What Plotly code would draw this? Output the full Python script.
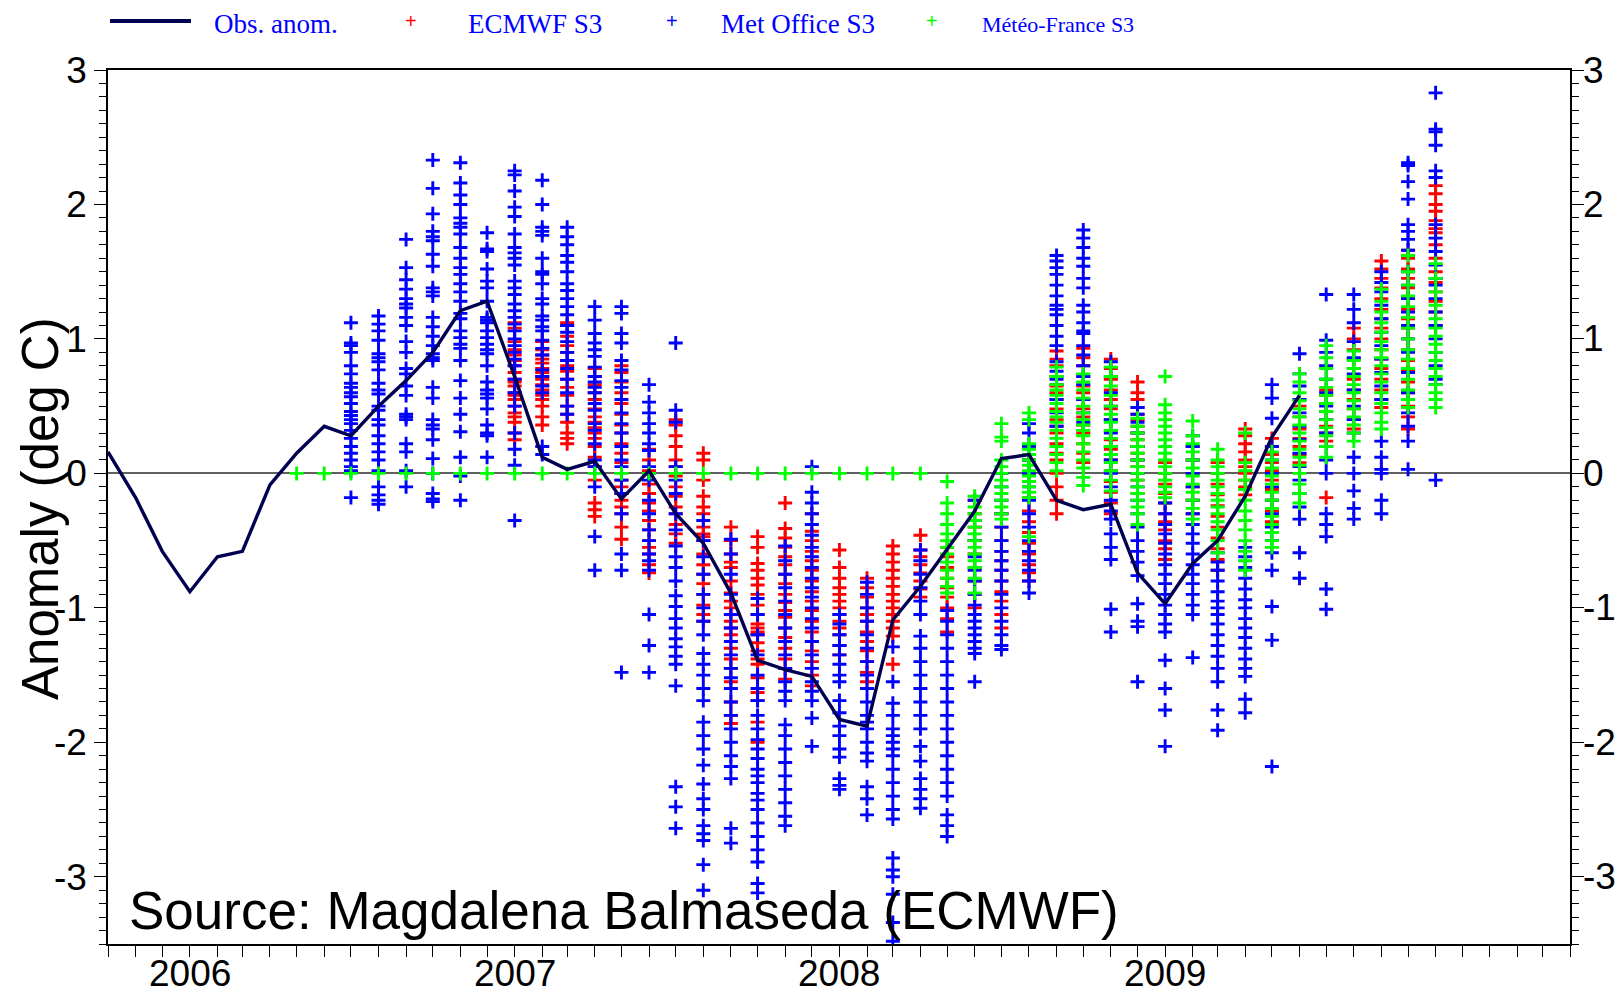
import plotly.graph_objects as go

# ---------------- data ----------------
obs_months = ["2005-10", "2005-11", "2005-12", "2006-01", "2006-02", "2006-03", "2006-04", "2006-05",
              "2006-06", "2006-07", "2006-08", "2006-09", "2006-10", "2006-11", "2006-12", "2007-01",
              "2007-02", "2007-03", "2007-04", "2007-05", "2007-06", "2007-07", "2007-08", "2007-09",
              "2007-10", "2007-11", "2007-12", "2008-01", "2008-02", "2008-03", "2008-04", "2008-05",
              "2008-06", "2008-07", "2008-08", "2008-09", "2008-10", "2008-11", "2008-12", "2009-01",
              "2009-02", "2009-03", "2009-04", "2009-05", "2009-06"]
obs_anom = [0.16, -0.18, -0.58, -0.88, -0.62, -0.58, -0.085, 0.15,
            0.35, 0.28, 0.5, 0.69, 0.9, 1.21, 1.28, 0.72,
            0.12, 0.03, 0.09, -0.19, 0.02, -0.3, -0.52, -0.89,
            -1.39, -1.46, -1.51, -1.83, -1.88, -1.09, -0.84, -0.56,
            -0.28, 0.11, 0.14, -0.2, -0.27, -0.23, -0.74, -0.97,
            -0.67, -0.5, -0.17, 0.27, 0.58]

year_ticks = ["2006-01-01", "2007-01-01", "2008-01-01", "2009-01-01"]
year_labels = ["2006", "2007", "2008", "2009"]
y_ticks = [-3, -2, -1, 0, 1, 2, 3]
y_labels = ["-3", "-2", "-1", "0", "1", "2", "3"]

ecmwf_months = ["2007-01", "2007-02", "2007-03", "2007-04", "2007-05", "2007-06", "2007-07", "2007-08",
                "2007-09", "2007-10", "2007-11", "2007-12", "2008-01", "2008-02", "2008-03", "2008-04",
                "2008-05", "2008-06", "2008-07", "2008-08", "2008-09", "2008-10", "2008-11", "2008-12",
                "2009-01", "2009-02", "2009-03", "2009-04", "2009-05", "2009-06", "2009-07", "2009-08",
                "2009-09", "2009-10", "2009-11"]
ecmwf_members = [
    [1.12, 1.08, 0.98, 0.92, 0.88, 0.84, 0.8, 0.75, 0.7, 0.68, 0.65, 0.6, 0.58, 0.55, 0.5, 0.45, 0.42, 0.38, 0.3, 0.25],
    [0.98, 0.92, 0.88, 0.85, 0.82, 0.78, 0.75, 0.72, 0.7, 0.66, 0.62, 0.58, 0.55, 0.5, 0.42, 0.36],
    [1.12, 1.1, 1.02, 0.95, 0.9, 0.84, 0.8, 0.76, 0.7, 0.64, 0.58, 0.5, 0.44, 0.38, 0.3, 0.26, 0.22],
    [0.78, 0.72, 0.66, 0.6, 0.55, 0.48, 0.42, 0.38, 0.34, 0.3, 0.26, 0.2, 0.12, 0.05, -0.05, -0.22, -0.27, -0.32],
    [0.8, 0.75, 0.68, 0.6, 0.52, 0.44, 0.36, 0.3, 0.22, 0.15, 0.08, -0.05, -0.1, -0.15, -0.2, -0.25, -0.3, -0.4, -0.49],
    [0.18, 0.1, 0.02, -0.08, -0.15, -0.22, -0.28, -0.35, -0.42, -0.5, -0.55, -0.6, -0.68, -0.74],
    [0.4, 0.36, 0.28, 0.2, 0.1, 0.05, -0.02, -0.1, -0.17, -0.25, -0.3, -0.38, -0.45, -0.52],
    [0.15, 0.1, -0.05, -0.17, -0.25, -0.3, -0.4, -0.45, -0.47, -0.5, -0.6, -0.68, -0.75, -0.82, -0.9, -0.98, -1.05, -1.1],
    [-0.4, -0.5, -0.6, -0.66, -0.7, -0.8, -0.89, -0.95, -1.0, -1.05, -1.1, -1.15, -1.2, -1.3, -1.38, -1.45, -1.55, -1.7, -1.8, -1.86],
    [-0.47, -0.55, -0.67, -0.72, -0.78, -0.83, -0.9, -0.98, -1.05, -1.12, -1.15, -1.18, -1.2, -1.26, -1.32, -1.38, -1.42, -1.52, -1.63, -1.69, -1.85, -2.0],
    [-0.22, -0.41, -0.48, -0.55, -0.62, -0.68, -0.75, -0.82, -0.9, -0.96, -1.02, -1.07, -1.15, -1.22, -1.3, -1.38, -1.45, -1.53],
    [-0.3, -0.43, -0.5, -0.58, -0.65, -0.72, -0.8, -0.88, -0.95, -1.02, -1.1, -1.18, -1.25, -1.32, -1.4, -1.5, -1.58],
    [-0.57, -0.7, -0.78, -0.85, -0.9, -0.95, -1.0, -1.05, -1.1, -1.15, -1.2, -1.28, -1.35],
    [-0.78, -0.85, -0.92, -1.0, -1.05, -1.1, -1.18, -1.25, -1.32, -1.4, -1.48, -1.55],
    [-0.54, -0.6, -0.66, -0.72, -0.78, -0.84, -0.9, -0.95, -1.0, -1.05, -1.1, -1.15, -1.21, -1.42],
    [-0.46, -0.57, -0.62, -0.68, -0.74, -0.8, -0.86, -0.92],
    [-0.55, -0.62, -0.7, -0.78, -0.85, -0.92, -1.0, -1.08, -1.18],
    [-0.2, -0.3, -0.4, -0.5, -0.6, -0.7, -0.8, -0.9, -1.0],
    [-0.3, -0.4, -0.5, -0.58, -0.65, -0.72, -0.8, -0.88, -0.95, -1.05, -1.15],
    [0.1, 0.0, -0.18, -0.28, -0.36, -0.44, -0.52, -0.6, -0.68, -0.74, -0.8],
    [0.91, 0.85, 0.8, 0.72, 0.65, 0.6, 0.55, 0.48, 0.4, 0.35, 0.3, 0.22, 0.15, 0.1, 0.0, -0.1, -0.2, -0.3],
    [0.93, 0.86, 0.8, 0.72, 0.65, 0.6, 0.55, 0.48, 0.42, 0.36, 0.3, 0.22, 0.15, 0.08],
    [0.85, 0.78, 0.7, 0.62, 0.55, 0.48, 0.4, 0.32, 0.25, 0.18, 0.1, 0.02, -0.06, -0.14, -0.22, -0.3],
    [0.68, 0.6, 0.55, 0.49, 0.44, 0.4, 0.35, 0.3, 0.25, 0.2, 0.15, 0.1, 0.05, -0.05, -0.15],
    [0.08, 0.0, -0.08, -0.15, -0.22, -0.3, -0.36, -0.42, -0.5, -0.56, -0.64],
    [0.2, 0.1, 0.0, -0.1, -0.2, -0.3],
    [0.08, 0.0, -0.08, -0.16, -0.24, -0.32, -0.4, -0.48, -0.56, -0.64, -0.72],
    [0.33, 0.28, 0.22, 0.16, 0.1, 0.05, 0.0, -0.05, -0.1, -0.16],
    [0.26, 0.2, 0.14, 0.08, 0.02, -0.05, -0.12, -0.2, -0.28, -0.36],
    [0.5, 0.42, 0.33, 0.26, 0.2, 0.14, 0.08],
    [0.62, 0.58, 0.52, 0.46, 0.4, 0.35, 0.3, 0.24, -0.18],
    [1.08, 1.0, 0.92, 0.85, 0.78, 0.7, 0.62, 0.55, 0.48, 0.4, 0.33],
    [1.58, 1.52, 1.45, 1.38, 1.3, 1.22, 1.15, 1.08, 1.0, 0.92, 0.85, 0.78, 0.7, 0.62, 0.55, 0.49],
    [1.66, 1.6, 1.52, 1.45, 1.38, 1.3, 1.22, 1.15, 1.08, 1.0, 0.92, 0.84, 0.76, 0.68, 0.6, 0.5, 0.42, 0.33],
    [2.14, 2.08, 2.0, 1.95, 1.88, 1.82, 1.79, 1.7, 1.6, 1.5, 1.42, 1.35, 1.28, 1.2, 1.1],
]

metoffice_months = ["2006-07", "2006-08", "2006-09", "2006-10", "2006-11", "2006-12"] + ecmwf_months
metoffice_members = [
    [1.12, 0.97, 0.95, 0.9, 0.8, 0.74, 0.67, 0.64, 0.6, 0.57, 0.52, 0.46, 0.43, 0.4, 0.37, 0.32, 0.26, 0.2, 0.15, 0.1, 0.05, 0.02, -0.18],
    [1.17, 1.11, 1.06, 0.99, 0.89, 0.86, 0.83, 0.77, 0.67, 0.62, 0.59, 0.5, 0.47, 0.4, 0.36, 0.28, 0.22, 0.16, 0.1, 0.02, -0.1, -0.16, -0.2, -0.23],
    [1.74, 1.53, 1.44, 1.37, 1.3, 1.26, 1.23, 1.16, 1.1, 0.98, 0.9, 0.78, 0.74, 0.65, 0.58, 0.44, 0.42, 0.4, 0.22, 0.16, 0.02, -0.1],
    [2.33, 2.12, 1.93, 1.8, 1.76, 1.73, 1.63, 1.54, 1.38, 1.35, 1.32, 1.16, 1.09, 1.02, 0.95, 0.89, 0.86, 0.84, 0.64, 0.56, 0.4, 0.36, 0.33, 0.25, 0.11, 0.0, -0.15, -0.19, -0.21],
    [2.31, 2.16, 2.07, 2.0, 1.9, 1.86, 1.83, 1.78, 1.68, 1.6, 1.53, 1.48, 1.41, 1.35, 1.28, 1.19, 1.15, 1.06, 1.01, 0.96, 0.93, 0.84, 0.69, 0.56, 0.44, 0.31, 0.12, -0.02, -0.2],
    [1.79, 1.67, 1.65, 1.52, 1.43, 1.38, 1.28, 1.16, 1.14, 1.12, 1.06, 1.01, 0.96, 0.92, 0.89, 0.8, 0.68, 0.62, 0.59, 0.56, 0.48, 0.36, 0.3, 0.28, 0.12],
    [2.25, 2.22, 2.1, 1.98, 1.91, 1.78, 1.68, 1.64, 1.6, 1.55, 1.43, 1.38, 1.33, 1.26, 1.21, 1.16, 1.11, 1.06, 1.0, 0.95, 0.9, 0.85, 0.8, 0.7, 0.6, 0.5, 0.3, 0.18, 0.06, -0.35],
    [2.18, 2.0, 1.83, 1.8, 1.77, 1.6, 1.5, 1.48, 1.41, 1.3, 1.26, 1.17, 1.14, 1.09, 1.06, 0.99, 0.93, 0.88, 0.77, 0.72, 0.65, 0.6, 0.2, 0.14],
    [1.83, 1.76, 1.7, 1.62, 1.57, 1.5, 1.41, 1.36, 1.3, 1.24, 1.18, 1.1, 1.05, 0.98, 0.9, 0.84, 0.78, 0.7, 0.6, 0.5, 0.44],
    [1.24, 1.14, 1.04, 0.97, 0.92, 0.87, 0.79, 0.72, 0.68, 0.64, 0.6, 0.52, 0.47, 0.37, 0.32, 0.22, 0.1, 0.05, -0.1, -0.47, -0.72],
    [1.24, 1.19, 1.04, 0.97, 0.84, 0.77, 0.69, 0.64, 0.55, 0.45, 0.37, 0.3, 0.2, 0.1, 0.05, -0.05, -0.15, -0.3, -0.6, -0.72, -1.48],
    [0.66, 0.53, 0.45, 0.37, 0.3, 0.22, 0.17, 0.05, 0.0, -0.05, -0.2, -0.3, -0.42, -0.5, -0.6, -0.65, -0.72, -1.05, -1.28, -1.48],
    [0.97, 0.47, 0.38, 0.05, -0.05, -0.15, -0.3, -0.42, -0.54, -0.62, -0.7, -0.8, -0.91, -0.99, -1.08, -1.15, -1.23, -1.29, -1.36, -1.42, -1.58, -2.33, -2.48, -2.64],
    [-0.35, -0.5, -0.62, -0.75, -0.9, -1.0, -1.1, -1.2, -1.34, -1.42, -1.5, -1.6, -1.69, -1.85, -1.95, -2.05, -2.17, -2.31, -2.42, -2.5, -2.62, -2.68, -2.73, -2.91, -3.1],
    [-0.49, -0.6, -0.75, -0.9, -1.05, -1.15, -1.25, -1.35, -1.45, -1.52, -1.6, -1.7, -1.8, -1.9, -2.0, -2.1, -2.18, -2.27, -2.64, -2.75],
    [-0.93, -1.05, -1.2, -1.35, -1.5, -1.6, -1.69, -1.8, -1.9, -1.98, -2.05, -2.12, -2.2, -2.25, -2.3, -2.38, -2.43, -2.5, -2.6, -2.7, -2.8, -2.89, -3.05, -3.12],
    [-0.54, -0.65, -0.75, -0.85, -0.95, -1.05, -1.15, -1.25, -1.35, -1.45, -1.55, -1.62, -1.69, -1.87, -1.95, -2.05, -2.15, -2.25, -2.35, -2.45, -2.55, -2.62],
    [0.05, -0.14, -0.22, -0.3, -0.38, -0.46, -0.55, -0.62, -0.7, -0.78, -0.85, -0.92, -1.0, -1.08, -1.15, -1.25, -1.35, -1.45, -1.55, -1.62, -1.69, -1.82, -2.03],
    [-1.05, -1.12, -1.2, -1.28, -1.35, -1.42, -1.5, -1.55, -1.69, -1.78, -1.88, -1.95, -2.05, -2.11, -2.27, -2.32, -2.35],
    [-0.81, -0.9, -1.0, -1.1, -1.2, -1.3, -1.4, -1.5, -1.6, -1.7, -1.8, -1.85, -1.9, -2.0, -2.08, -2.14, -2.33, -2.42, -2.54],
    [-1.29, -1.55, -1.71, -1.8, -1.9, -1.95, -2.0, -2.05, -2.1, -2.2, -2.3, -2.4, -2.5, -2.57, -2.86, -2.95, -3.0, -3.13, -3.34, -3.48],
    [-0.57, -0.65, -0.75, -0.85, -0.95, -1.05, -1.21, -1.3, -1.4, -1.5, -1.6, -1.7, -1.8, -1.9, -2.03, -2.14, -2.27, -2.35, -2.42, -2.49],
    [-1.02, -1.1, -1.2, -1.3, -1.4, -1.5, -1.6, -1.7, -1.8, -1.9, -2.0, -2.1, -2.2, -2.3, -2.4, -2.54, -2.62, -2.7],
    [-0.2, -0.35, -0.5, -0.62, -0.72, -0.8, -0.9, -0.98, -1.05, -1.1, -1.15, -1.2, -1.25, -1.3, -1.34, -1.55],
    [0.0, -0.1, -0.2, -0.3, -0.4, -0.5, -0.58, -0.65, -0.72, -0.8, -0.9, -1.0, -1.1, -1.2, -1.28, -1.31],
    [0.37, 0.3, 0.2, 0.1, 0.0, -0.1, -0.2, -0.3, -0.4, -0.5, -0.58, -0.65, -0.72, -0.8, -0.89],
    [1.62, 1.58, 1.53, 1.48, 1.4, 1.32, 1.25, 1.22, 1.18, 1.1, 1.02, 0.95, 0.83, 0.76, 0.7, 0.66, 0.55, 0.45, 0.35],
    [1.81, 1.75, 1.68, 1.6, 1.54, 1.45, 1.38, 1.25, 1.2, 1.12, 1.06, 1.04, 0.95, 0.88, 0.8, 0.72, 0.66, 0.55, 0.45, 0.38],
    [0.83, 0.72, 0.6, 0.5, 0.4, 0.3, 0.2, 0.1, 0.0, -0.1, -0.2, -0.28, -0.34, -0.45, -0.55, -0.64, -1.01, -1.18],
    [0.49, 0.44, 0.38, 0.3, 0.2, 0.1, 0.0, -0.1, -0.2, -0.3, -0.4, -0.5, -0.58, -0.66, -0.76, -0.97, -1.1, -1.14, -1.55],
    [-0.22, -0.3, -0.38, -0.45, -0.52, -0.6, -0.68, -0.75, -0.82, -0.9, -0.98, -1.05, -1.12, -1.18, -1.39, -1.6, -1.76, -2.03],
    [0.28, 0.2, 0.1, 0.0, -0.1, -0.2, -0.3, -0.38, -0.45, -0.52, -0.6, -0.68, -0.75, -0.82, -0.9, -0.98, -1.05, -1.37],
    [-0.59, -0.66, -0.72, -0.8, -0.88, -0.95, -1.0, -1.05, -1.12, -1.2, -1.28, -1.36, -1.45, -1.55, -1.76, -1.91],
    [-0.55, -0.62, -0.7, -0.78, -0.86, -0.94, -1.0, -1.08, -1.15, -1.22, -1.3, -1.38, -1.45, -1.51, -1.68, -1.78],
    [0.66, 0.56, 0.41, 0.2, 0.1, 0.0, -0.1, -0.2, -0.3, -0.4, -0.5, -0.59, -0.72, -0.99, -1.24, -2.18],
    [0.89, 0.74, 0.65, 0.55, 0.45, 0.35, 0.25, 0.15, 0.05, -0.05, -0.15, -0.25, -0.34, -0.59, -0.78],
    [1.33, 0.99, 0.9, 0.8, 0.7, 0.6, 0.5, 0.4, 0.3, 0.2, 0.1, 0.0, -0.3, -0.38, -0.47, -0.86, -1.01],
    [1.33, 1.22, 1.12, 0.98, 0.86, 0.74, 0.62, 0.5, 0.4, 0.3, 0.12, 0.0, -0.13, -0.26, -0.34],
    [1.5, 1.42, 1.35, 1.25, 1.15, 1.05, 0.95, 0.85, 0.75, 0.65, 0.55, 0.24, 0.12, 0.03, 0.0, -0.2, -0.3],
    [2.31, 2.29, 2.17, 2.04, 1.85, 1.8, 1.74, 1.66, 1.5, 1.4, 1.3, 1.2, 1.1, 1.0, 0.9, 0.75, 0.6, 0.45, 0.35, 0.24, 0.03],
    [2.83, 2.56, 2.54, 2.44, 2.25, 2.2, 1.85, 1.75, 1.65, 1.55, 1.45, 1.4, 1.3, 1.2, 1.1, 1.0, 0.9, 0.8, 0.7, 0.66, -0.05],
]

# Meteo-France: no data (plotted at 0) May 2006 - Apr 2008, then forecasts
mf_missing_months = ["2006-05", "2006-06", "2006-07", "2006-08", "2006-09", "2006-10", "2006-11", "2006-12",
                     "2007-01", "2007-02", "2007-03", "2007-04", "2007-05", "2007-06", "2007-07", "2007-08",
                     "2007-09", "2007-10", "2007-11", "2007-12", "2008-01", "2008-02", "2008-03", "2008-04"]
mf_missing_values = [0.0, 0.0, 0.0, 0.0, 0.0, 0.0, 0.0, 0.0, 0.0, 0.0, 0.0, 0.0,
                     0.0, 0.0, 0.0, 0.0, 0.0, 0.0, 0.0, 0.0, 0.0, 0.0, 0.0, 0.0]
mf_months = ["2008-05", "2008-06", "2008-07", "2008-08", "2008-09", "2008-10", "2008-11", "2008-12",
             "2009-01", "2009-02", "2009-03", "2009-04", "2009-05", "2009-06", "2009-07", "2009-08",
             "2009-09", "2009-10", "2009-11"]
mf_members = [
    [-0.06, -0.22, -0.3, -0.38, -0.45, -0.5, -0.55, -0.6, -0.66, -0.72, -0.78, -0.84, -0.89],
    [-0.17, -0.25, -0.3, -0.35, -0.4, -0.45, -0.5, -0.55, -0.6, -0.65, -0.7, -0.78, -0.89],
    [0.37, 0.27, 0.24, 0.1, 0.05, 0.0, -0.05, -0.1, -0.15, -0.2, -0.25, -0.3, -0.34],
    [0.45, 0.4, 0.22, 0.18, 0.14, 0.1, 0.06, 0.02, -0.02, -0.06, -0.1, -0.14, -0.18, -0.47],
    [0.79, 0.72, 0.66, 0.62, 0.58, 0.52, 0.46, 0.42, 0.38, 0.32, 0.26, 0.2, 0.14, 0.08, 0.02],
    [0.74, 0.68, 0.62, 0.56, 0.5, 0.45, 0.4, 0.36, 0.32, 0.28, 0.22, 0.16, 0.1, 0.04, -0.03, -0.09],
    [0.79, 0.72, 0.65, 0.58, 0.5, 0.44, 0.38, 0.32, 0.26, 0.2, 0.14, 0.08, 0.02, -0.05, -0.13],
    [0.41, 0.35, 0.3, 0.25, 0.2, 0.15, 0.1, 0.05, 0.0, -0.05, -0.1, -0.15, -0.2, -0.25, -0.3, -0.38],
    [0.72, 0.51, 0.45, 0.4, 0.35, 0.3, 0.25, 0.2, 0.15, 0.1, 0.05, 0.0, -0.05, -0.1, -0.14, -0.18],
    [0.39, 0.28, 0.22, 0.16, 0.1, 0.04, -0.02, -0.08, -0.14, -0.2, -0.26, -0.34],
    [0.18, 0.1, 0.05, 0.0, -0.05, -0.1, -0.15, -0.2, -0.25, -0.3, -0.36, -0.42, -0.5, -0.59],
    [0.3, 0.08, 0.02, -0.05, -0.12, -0.2, -0.28, -0.35, -0.42, -0.5, -0.58, -0.65, -0.72],
    [0.16, 0.1, 0.04, -0.02, -0.08, -0.14, -0.2, -0.26, -0.32, -0.38, -0.44, -0.5, -0.55],
    [0.74, 0.68, 0.6, 0.54, 0.48, 0.42, 0.36, 0.3, 0.24, 0.18, 0.12, 0.06, 0.0, -0.08, -0.15, -0.22],
    [0.95, 0.86, 0.78, 0.7, 0.64, 0.58, 0.52, 0.46, 0.4, 0.34, 0.28, 0.2, 0.12],
    [0.91, 0.84, 0.78, 0.72, 0.66, 0.6, 0.54, 0.48, 0.42, 0.36, 0.3, 0.24],
    [1.37, 1.28, 1.2, 1.12, 1.05, 0.98, 0.92, 0.86, 0.8, 0.74, 0.68, 0.6, 0.52, 0.45, 0.38, 0.33],
    [1.62, 1.5, 1.4, 1.32, 1.24, 1.16, 1.08, 1.0, 0.92, 0.85, 0.78, 0.7, 0.62, 0.55, 0.49],
    [1.56, 1.45, 1.35, 1.25, 1.15, 1.08, 1.02, 0.96, 0.9, 0.84, 0.78, 0.72, 0.66, 0.6, 0.55, 0.49],
]

# ---------------- helpers ----------------
# page body has an 8 px margin; size the figure so it fits the 1623x1001 window exactly
OFF = 8
W, H = 1623 - 2 * OFF, 1001 - 2 * OFF
ML, MT = 108 - OFF, 70 - OFF
MR = (OFF + W) - 1570
MB = (OFF + H) - 944


def px(xpix):  # window pixel -> paper x
    return (xpix - OFF - ML) / (W - ML - MR)


def py(ypix):  # window pixel -> paper y
    return (H - MB - (ypix - OFF)) / (H - MT - MB)


def flatten(months, members):
    xs, ys = [], []
    for m, vals in zip(months, members):
        for v in vals:
            xs.append(m + "-01")
            ys.append(v)
    return xs, ys


RED, BLUE, GREEN, NAVY = "#ff0000", "#0000ff", "#00ff00", "#000050"
FONT = "Liberation Sans, Arial, sans-serif"
SERIF = "Liberation Serif, Times New Roman, serif"


def cross(color):
    return dict(symbol="cross-thin", size=10, color=color, line=dict(color=color, width=2.9))


fig = go.Figure()

ex, ey = flatten(ecmwf_months, ecmwf_members)
fig.add_trace(go.Scatter(x=ex, y=ey, mode="markers", marker=cross(RED), name="ECMWF S3"))

bx, by = flatten(metoffice_months, metoffice_members)
fig.add_trace(go.Scatter(x=bx, y=by, mode="markers", marker=cross(BLUE), name="Met Office S3"))

gx, gy = flatten(mf_months, mf_members)
gx = [m + "-01" for m in mf_missing_months] + gx
gy = list(mf_missing_values) + gy
fig.add_trace(go.Scatter(x=gx, y=gy, mode="markers", marker=cross(GREEN), name="Météo-France S3"))

fig.add_trace(go.Scatter(x=[m + "-01" for m in obs_months], y=obs_anom, mode="lines",
                         line=dict(color=NAVY, width=3.4), name="Obs. anom.", yaxis="y2"))

yr = [-3.5, 3]
tickfont = dict(family=FONT, size=37, color="black")
common_y = dict(range=yr, tickvals=y_ticks, ticktext=y_labels,
                ticks="outside", ticklen=12, tickwidth=1, tickcolor="black", showgrid=False,
                showline=True, linecolor="black", linewidth=1.5, tickfont=tickfont, automargin=False,
                minor=dict(dtick=0.1, tick0=0, ticks="outside", ticklen=7, tickwidth=1, tickcolor="black",
                           showgrid=False))

fig.update_layout(
    width=W, height=H, margin=dict(l=ML, r=MR, t=MT, b=MB),
    paper_bgcolor="white", plot_bgcolor="white", showlegend=False,
    xaxis=dict(type="date", range=["2005-10-01", "2010-04-01"], tickvals=year_ticks, ticktext=year_labels,
               showticklabels=False,
               ticks="outside", ticklen=11, tickwidth=1, tickcolor="black", automargin=False,
               showgrid=False, showline=True, linecolor="black", linewidth=1.5, mirror=True,
               zeroline=False,
               minor=dict(dtick="M1", tick0="2006-01-01", ticks="outside", ticklen=11, tickwidth=1,
                          tickcolor="black", showgrid=False)),
    yaxis=dict(side="left", zeroline=True, zerolinecolor="#606060", zerolinewidth=1.5, **common_y),
    yaxis2=dict(side="right", overlaying="y", zeroline=False, showticklabels=False, **common_y),
)

# year labels under the x axis
for tv, tl in zip(year_ticks, year_labels):
    fig.add_annotation(text=tl, xref="x", yref="paper", x=tv, y=py(973), xanchor="center",
                       yanchor="middle", showarrow=False, font=tickfont)

# right-hand tick labels (left-aligned next to the right axis)
for tv, tl in zip(y_ticks, y_labels):
    fig.add_annotation(text=tl, xref="paper", yref="y", x=px(1582), y=tv, xanchor="left",
                       yanchor="middle", showarrow=False, borderpad=0, font=tickfont)

# y-axis title
fig.add_annotation(text="Anomaly (deg C)", xref="paper", yref="paper", x=px(40), y=py(509),
                   xanchor="center", yanchor="middle",
                   textangle=-90, showarrow=False, font=dict(family=FONT, size=51, color="black"))
# source
fig.add_annotation(text="Source: Magdalena Balmaseda (ECMWF)", xref="paper", yref="paper",
                   x=px(127), y=py(910), xanchor="left", yanchor="middle", showarrow=False,
                   font=dict(family=FONT, size=53, color="black"))

# legend (drawn manually, kept inside the figure's top edge)
LY = 24
fig.add_shape(type="line", xref="paper", yref="paper", x0=px(110), x1=px(191), y0=py(21), y1=py(21),
              line=dict(color=NAVY, width=4))
legend_items = [
    (212, "Obs. anom.", 27),
    (466, "ECMWF S3", 27),
    (719, "Met Office S3", 27),
    (980, "Météo-France S3", 22),
]
for x0, txt, sz in legend_items:
    fig.add_annotation(text=txt, xref="paper", yref="paper", x=px(x0), y=py(LY), xanchor="left",
                       yanchor="middle", showarrow=False, font=dict(family=SERIF, size=sz, color="#0000ff"))
for xc, col in [(411, RED), (672, BLUE), (932, GREEN)]:
    fig.add_annotation(text="+", xref="paper", yref="paper", x=px(xc), y=py(21), xanchor="center",
                       yanchor="middle", showarrow=False, font=dict(family=FONT, size=20, color=col))

fig.write_html("out.html")
